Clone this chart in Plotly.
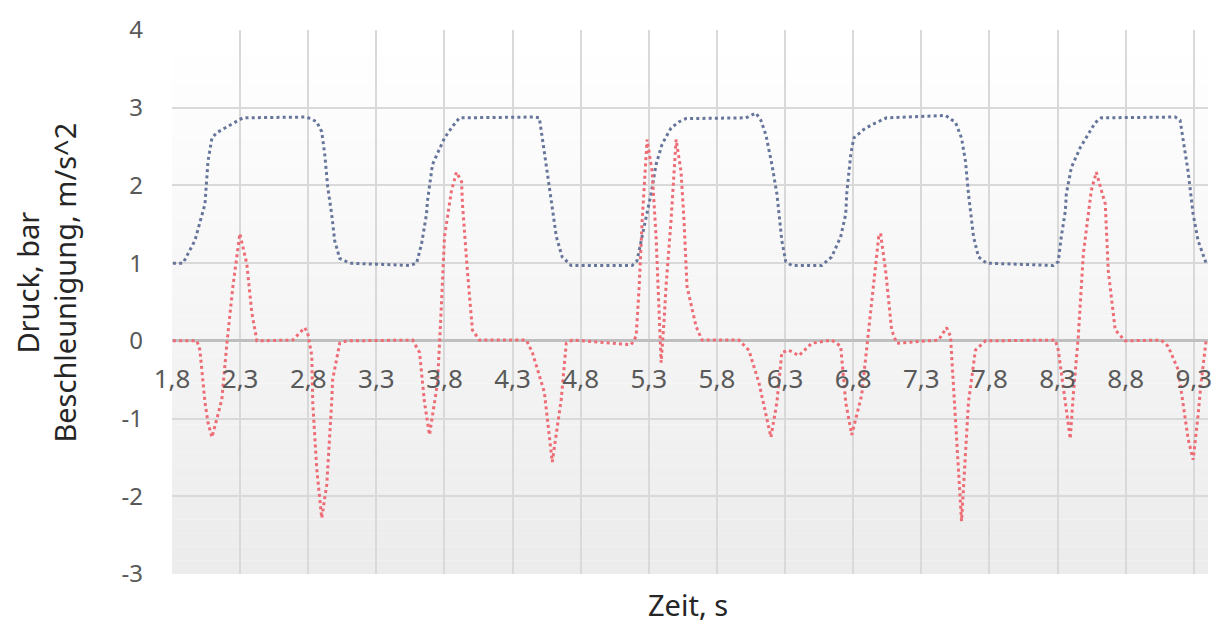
import plotly.graph_objects as go

# Pressure (Druck) samples: time in s, pressure in bar
druck_t = [1.807, 1.881, 1.968, 2.020, 2.042, 2.064, 2.093, 2.130, 2.284, 2.320,
           2.789, 2.862, 2.899, 2.921, 2.943, 2.972, 2.994, 3.031, 3.104, 3.544,
           3.595, 3.632, 3.668, 3.675, 3.712, 3.800, 3.859, 3.910, 4.459, 4.496,
           4.518, 4.555, 4.584, 4.621, 4.664, 4.730, 5.177, 5.213, 5.250, 5.287,
           5.316, 5.353, 5.397, 5.463, 5.522, 5.573, 6.012, 6.086, 6.122, 6.159,
           6.203, 6.240, 6.254, 6.276, 6.305, 6.349, 6.569, 6.642, 6.708, 6.745,
           6.752, 6.782, 6.804, 6.877, 6.935, 7.009, 7.045, 7.478, 7.551, 7.595,
           7.624, 7.646, 7.661, 7.683, 7.719, 7.778, 8.269, 8.305, 8.327, 8.357,
           8.364, 8.401, 8.467, 8.525, 8.577, 8.621, 9.163, 9.199, 9.221, 9.258,
           9.280, 9.295, 9.331, 9.390]
druck_v = [1.00, 1.00, 1.29, 1.63, 1.76, 2.31, 2.61, 2.68, 2.84, 2.87,
           2.88, 2.82, 2.69, 2.40, 1.98, 1.63, 1.29, 1.06, 1.00, 0.97,
           1.00, 1.25, 1.63, 1.80, 2.27, 2.61, 2.76, 2.87, 2.88, 2.87,
           2.61, 2.18, 1.80, 1.34, 1.08, 0.97, 0.97, 1.03, 1.34, 1.63,
           1.89, 2.27, 2.53, 2.74, 2.82, 2.86, 2.87, 2.93, 2.84, 2.65,
           2.27, 1.89, 1.63, 1.29, 1.02, 0.97, 0.97, 1.08, 1.34, 1.63,
           1.89, 2.40, 2.61, 2.72, 2.78, 2.84, 2.87, 2.90, 2.81, 2.61,
           2.31, 1.89, 1.63, 1.34, 1.08, 1.00, 0.97, 1.02, 1.34, 1.67,
           1.89, 2.23, 2.49, 2.65, 2.81, 2.87, 2.88, 2.84, 2.61, 2.18,
           1.85, 1.63, 1.29, 1.00]

# Acceleration (Beschleunigung) samples: time in s, acceleration in m/s^2
beschl_t = [1.807, 1.983, 2.005, 2.042, 2.064, 2.093, 2.130, 2.152, 2.166, 2.203,
            2.247, 2.298, 2.349, 2.386, 2.423, 2.686, 2.774, 2.796, 2.826, 2.833,
            2.862, 2.899, 2.936, 2.972, 2.979, 3.031, 3.082, 3.566, 3.617, 3.653,
            3.690, 3.727, 3.749, 3.778, 3.800, 3.851, 3.888, 3.925, 3.932, 3.968,
            4.005, 4.056, 4.401, 4.445, 4.533, 4.591, 4.657, 4.694, 4.738, 5.170,
            5.207, 5.229, 5.251, 5.287, 5.324, 5.353, 5.375, 5.390, 5.412, 5.426,
            5.463, 5.500, 5.536, 5.558, 5.580, 5.646, 5.690, 5.961, 6.034, 6.108,
            6.196, 6.240, 6.276, 6.327, 6.401, 6.496, 6.642, 6.708, 6.745, 6.789,
            6.862, 6.935, 6.987, 7.001, 7.038, 7.082, 7.119, 7.426, 7.485, 7.514,
            7.595, 7.646, 7.697, 7.771, 8.284, 8.305, 8.357, 8.393, 8.415, 8.452,
            8.489, 8.547, 8.584, 8.621, 8.650, 8.672, 8.723, 8.796, 9.060, 9.111,
            9.185, 9.258, 9.295, 9.331, 9.353, 9.390]
beschl_v = [0.00, 0.00, -0.12, -0.79, -1.05, -1.24, -1.00, -0.83, -0.75, -0.03,
            0.70, 1.38, 0.99, 0.36, 0.00, 0.01, 0.17, 0.10, -0.19, -0.79,
            -1.64, -2.28, -1.85, -0.79, -0.50, -0.03, 0.00, 0.01, -0.15, -0.79,
            -1.21, -0.79, -0.54, 0.48, 1.34, 1.93, 2.17, 2.05, 1.76, 0.90,
            0.14, 0.01, 0.01, -0.15, -0.66, -1.56, -0.75, -0.03, 0.01, -0.05,
            0.06, 0.70, 1.55, 2.59, 2.18, 1.34, 0.48, -0.28, 0.27, 0.70,
            1.55, 2.59, 2.18, 1.55, 0.70, 0.19, 0.01, 0.01, -0.12, -0.54,
            -1.24, -0.79, -0.15, -0.12, -0.19, -0.03, 0.01, -0.07, -0.79, -1.21,
            -0.70, 0.48, 1.34, 1.38, 0.90, 0.14, -0.03, 0.01, 0.17, 0.06,
            -2.32, -0.79, -0.12, 0.00, 0.01, -0.12, -0.79, -1.26, -0.70, 0.06,
            1.12, 1.93, 2.17, 1.93, 1.76, 0.90, 0.14, 0.00, 0.01, -0.07,
            -0.37, -1.26, -1.53, -0.96, -0.54, 0.00]

assert len(druck_t) == len(druck_v)
assert len(beschl_t) == len(beschl_v)

# Axis ticks
x_tick_vals = [1.8, 2.3, 2.8, 3.3, 3.8, 4.3, 4.8, 5.3, 5.8, 6.3, 6.8, 7.3, 7.8, 8.3, 8.8, 9.3]
x_tick_text = ["1,8", "2,3", "2,8", "3,3", "3,8", "4,3", "4,8", "5,3",
               "5,8", "6,3", "6,8", "7,3", "7,8", "8,3", "8,8", "9,3"]
y_tick_vals = [4, 3, 2, 1, 0, -1, -2, -3]
y_tick_text = ["4", "3", "2", "1", "0", "-1", "-2", "-3"]

X_RANGE = [1.8, 9.404]
Y_RANGE = [-3, 4]
FONT = "Noto Sans"
TICK_COLOR = "#595959"
GRID = "#d9d9d9"

fig = go.Figure()

fig.add_trace(go.Scatter(
    x=druck_t, y=druck_v, mode="lines", name="Druck",
    line=dict(color="#66759a", width=3, dash="3px,3.2px"),
))
fig.add_trace(go.Scatter(
    x=beschl_t, y=beschl_v, mode="lines", name="Beschleunigung",
    line=dict(color="#ee6c75", width=3, dash="3px,3.2px"),
))
# invisible trace to carry the tick-label axis that sits on the zero line
fig.add_trace(go.Scatter(x=[X_RANGE[0]], y=[0], xaxis="x2", mode="markers",
                         marker=dict(opacity=0), showlegend=False, hoverinfo="skip"))

# soft vertical gradient in the plot area: white at top, light grey at bottom
shapes = []
n_strips = 40
for i in range(n_strips):
    f = i / (n_strips - 1)  # 0 at bottom, 1 at top
    g = round(236 + (255 - 236) * f)
    y0 = Y_RANGE[0] + (Y_RANGE[1] - Y_RANGE[0]) * i / n_strips
    y1 = Y_RANGE[0] + (Y_RANGE[1] - Y_RANGE[0]) * (i + 1) / n_strips
    shapes.append(dict(type="rect", xref="paper", yref="y", x0=0, x1=1, y0=y0, y1=y1,
                       fillcolor=f"rgb({g},{g},{g})", line=dict(width=0), layer="below"))

fig.update_layout(
    width=1224, height=635,
    margin=dict(l=172, r=14, t=25, b=61),
    paper_bgcolor="white", plot_bgcolor="white",
    showlegend=False,
    shapes=shapes,
    font=dict(family=FONT, color=TICK_COLOR),
    xaxis=dict(
        range=X_RANGE, tickvals=x_tick_vals, showticklabels=False,
        showgrid=True, gridcolor=GRID, gridwidth=2, zeroline=False,
        showline=False, ticks="",
    ),
    xaxis2=dict(
        range=X_RANGE, overlaying="x", anchor="free", position=3 / 7, side="bottom",
        tickvals=x_tick_vals, ticktext=x_tick_text, showgrid=False, zeroline=False,
        showline=False, ticks="", ticklabelstandoff=20,
        tickfont=dict(family=FONT, size=26, color=TICK_COLOR),
    ),
    yaxis=dict(
        range=Y_RANGE, tickvals=y_tick_vals, ticktext=y_tick_text,
        showgrid=True, gridcolor=GRID, gridwidth=2,
        zeroline=True, zerolinecolor="#bfbfbf", zerolinewidth=3,
        showline=False, ticks="", ticklabelstandoff=28,
        tickfont=dict(family=FONT, size=24, color=TICK_COLOR),
    ),
    annotations=[
        dict(text="Druck, bar<br>Beschleunigung, m/s^2", textangle=-90,
             xref="paper", yref="paper", x=-0.121, y=0.535,
             xanchor="center", yanchor="middle", showarrow=False,
             font=dict(family=FONT, size=29, color="#262626")),
        dict(text="Zeit, s", xref="paper", yref="paper", x=0.4985, y=-0.056,
             xanchor="center", yanchor="middle", showarrow=False,
             font=dict(family=FONT, size=29, color="#262626")),
    ],
)

fig.write_html("out.html")
